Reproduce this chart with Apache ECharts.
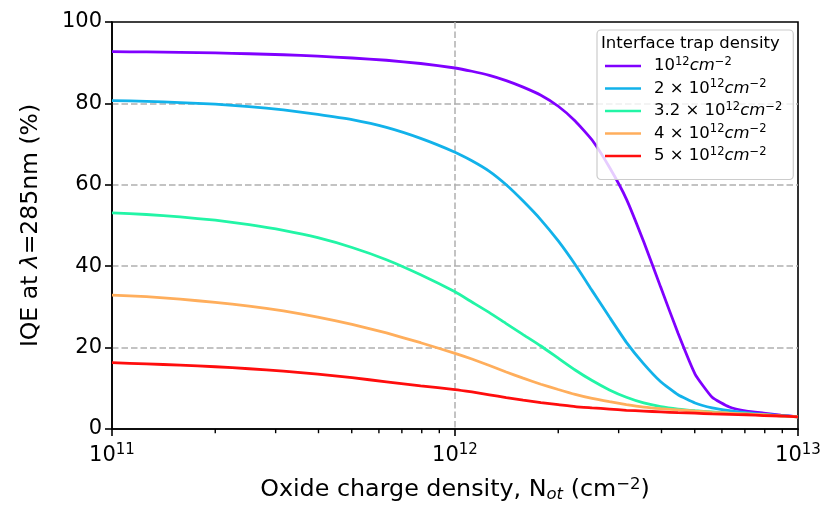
<!DOCTYPE html>
<html>
<head>
<meta charset="utf-8">
<script src="https://cdn.jsdelivr.net/npm/echarts@6/dist/echarts.min.js"></script>
<style>
  html, body { margin: 0; padding: 0; background: #fff; }
  #chart { width: 827px; height: 509px; }
</style>
</head>
<body>
<div id="chart"></div>
<script>
// Oxide charge density N_ot (cm^-2), sampled on a log grid
const oxideCharge = [
  1.00e11, 1.26e11, 1.58e11, 2.00e11, 2.51e11, 3.16e11, 3.98e11, 5.01e11, 6.31e11, 7.94e11,
  1.00e12, 1.12e12, 1.26e12, 1.41e12, 1.58e12, 1.78e12, 2.00e12, 2.24e12, 2.51e12, 2.82e12,
  3.16e12, 3.55e12, 3.98e12, 4.47e12, 5.01e12, 5.62e12, 6.31e12, 7.08e12, 7.94e12, 8.91e12,
  1.00e13
];

// IQE (%) at 285 nm for each interface trap density
const iqeDit1 = [
  92.7, 92.65, 92.55, 92.4, 92.2, 91.95, 91.6, 91.15, 90.6, 89.8,
  88.7, 87.9, 86.9, 85.6, 84.0, 82.0, 79.3, 75.7, 71.0, 64.3,
  56.5, 46.0, 34.8, 23.5, 13.5, 7.8, 5.4, 4.4, 3.9, 3.4,
  3.0
];
const iqeDit2 = [
  80.7, 80.5, 80.2, 79.8, 79.2, 78.4, 77.3, 76.0, 74.1, 71.4,
  68.0, 65.9, 63.3, 60.0, 56.0, 51.4, 46.2, 40.4, 34.0, 27.5,
  21.3, 16.0, 11.6, 8.4, 6.4, 5.2, 4.5, 4.0, 3.6, 3.3,
  3.0
];
const iqeDit32 = [
  53.1, 52.7, 52.1, 51.3, 50.2, 48.8, 47.0, 44.6, 41.6, 37.9,
  33.7, 31.2, 28.6, 25.9, 23.2, 20.4, 17.4, 14.5, 11.9, 9.6,
  7.8, 6.4, 5.5, 4.9, 4.5, 4.2, 3.9, 3.7, 3.5, 3.2,
  3.0
];
const iqeDit4 = [
  32.9, 32.5, 31.9, 31.1, 30.2, 29.0, 27.5, 25.7, 23.6, 21.2,
  18.6, 17.2, 15.6, 14.0, 12.5, 11.0, 9.7, 8.5, 7.5, 6.7,
  6.0, 5.4, 5.0, 4.7, 4.4, 4.1, 3.9, 3.7, 3.5, 3.2,
  3.0
];
const iqeDit5 = [
  16.3, 16.0, 15.7, 15.3, 14.8, 14.2, 13.5, 12.6, 11.6, 10.6,
  9.7, 9.1, 8.4, 7.7, 7.1, 6.5, 6.0, 5.5, 5.2, 4.9,
  4.6, 4.4, 4.2, 4.0, 3.9, 3.7, 3.6, 3.5, 3.3, 3.2,
  3.0
];

const seriesNames = ['dit1', 'dit2', 'dit32', 'dit4', 'dit5'];
const legendLabels = {
  dit1:  '{t|10}{s|12}{i|cm}{s|−2}',
  dit2:  '{t|2 × 10}{s|12}{i|cm}{s|−2}',
  dit32: '{t|3.2 × 10}{s|12}{i|cm}{s|−2}',
  dit4:  '{t|4 × 10}{s|12}{i|cm}{s|−2}',
  dit5:  '{t|5 × 10}{s|12}{i|cm}{s|−2}'
};
const seriesValues = [iqeDit1, iqeDit2, iqeDit32, iqeDit4, iqeDit5];
const seriesColors = ['#8000ff', '#12b2ea', '#22f5a6', '#ffae5c', '#ff0d0d'];

// log-axis minor tick positions (2..9 × 10^n)
const minorTickValues = [
  2e11, 3e11, 4e11, 5e11, 6e11, 7e11, 8e11, 9e11,
  2e12, 3e12, 4e12, 5e12, 6e12, 7e12, 8e12, 9e12
];

const yTicks = { min: 0, max: 100, interval: 20 };

const FONT = 'DejaVu Sans';
const chart = echarts.init(document.getElementById('chart'), null, { renderer: 'canvas' });

const lineSeries = seriesNames.map((name, i) => ({
  name: name,
  type: 'line',
  showSymbol: false,
  symbol: 'none',
  smooth: 0.15,
  data: oxideCharge.map((x, k) => [x, seriesValues[i][k]]),
  lineStyle: { color: seriesColors[i], width: 2.8 },
  itemStyle: { color: seriesColors[i] },
  emphasis: { disabled: true },
  z: 3
}));

const minorTickSeries = {
  name: 'minorTicks',
  type: 'custom',
  silent: true,
  clip: false,
  data: minorTickValues.map(v => [v, 0]),
  renderItem: function (params, api) {
    const p = api.coord([api.value(0), 0]);
    return {
      type: 'line',
      shape: { x1: p[0], y1: p[1], x2: p[0], y2: p[1] + 4.2 },
      style: { stroke: '#000', lineWidth: 1.4 }
    };
  },
  z: 5
};

const gridLine = {
  show: true,
  showMinLine: false,
  showMaxLine: false,
  lineStyle: { color: '#b0b0b0', width: 1.5, type: [6.5, 3] }
};

chart.setOption({
  animation: false,
  backgroundColor: '#fff',
  textStyle: { fontFamily: FONT },
  grid: {
    left: 112, right: 29, top: 22, bottom: 76,
    show: true, borderColor: '#000', borderWidth: 1.6,
    containLabel: false
  },
  xAxis: {
    type: 'log',
    logBase: 10,
    min: 1e11,
    max: 1e13,
    name: '{n|Oxide charge density, N}{sub|ot}{n| (cm}{sup|−2}{n|)}',
    nameLocation: 'middle',
    nameGap: 47,
    nameTextStyle: {
      color: '#000', fontFamily: FONT, fontSize: 23.8,
      rich: {
        n: { fontSize: 23.8, fontFamily: FONT, color: '#000', lineHeight: 28, verticalAlign: 'middle' },
        sub: { fontSize: 16.5, fontFamily: FONT, fontStyle: 'italic', color: '#000', lineHeight: 16, verticalAlign: 'bottom', padding: [0, 0, 1, 0] },
        sup: { fontSize: 16.5, fontFamily: FONT, color: '#000', lineHeight: 16, verticalAlign: 'top' }
      }
    },
    axisLine: { show: true, lineStyle: { color: '#000', width: 1.6 } },
    axisTick: { show: true, length: 7, lineStyle: { color: '#000', width: 1.6 } },
    axisLabel: {
      show: true,
      margin: 14,
      color: '#000',
      showMinLabel: true,
      showMaxLabel: true,
      formatter: function (v) {
        return '{b|10}{s|' + Math.round(Math.log10(v)) + '}';
      },
      rich: {
        b: { fontSize: 21, fontFamily: FONT, color: '#000', lineHeight: 26, verticalAlign: 'middle' },
        s: { fontSize: 15, fontFamily: FONT, color: '#000', lineHeight: 15, verticalAlign: 'top' }
      }
    },
    splitLine: gridLine,
    minorTick: { show: false },
    minorSplitLine: { show: false }
  },
  yAxis: {
    type: 'value',
    min: yTicks.min,
    max: yTicks.max,
    interval: yTicks.interval,
    name: '{n|IQE at }{i|λ}{n|=285nm (%)}',
    nameLocation: 'middle',
    nameGap: 69,
    nameRotate: 90,
    nameTextStyle: {
      color: '#000', fontFamily: FONT, fontSize: 23.5,
      rich: {
        n: { fontSize: 23.5, fontFamily: FONT, color: '#000' },
        i: { fontSize: 23.5, fontFamily: FONT, fontStyle: 'italic', color: '#000' }
      }
    },
    axisLine: { show: true, lineStyle: { color: '#000', width: 1.6 } },
    axisTick: { show: true, length: 7, lineStyle: { color: '#000', width: 1.6 } },
    axisLabel: { color: '#000', fontSize: 21, fontFamily: FONT, margin: 10 },
    splitLine: gridLine
  },
  legend: {
    data: seriesNames,
    orient: 'vertical',
    left: 597,
    top: 30,
    padding: [26, 11, 15, 8],
    itemGap: 4,
    itemWidth: 36,
    itemHeight: 2.6,
    icon: 'rect',
    backgroundColor: 'rgba(255,255,255,0.8)',
    borderColor: '#cccccc',
    borderWidth: 1.2,
    borderRadius: 4,
    selectedMode: false,
    formatter: function (name) { return legendLabels[name]; },
    textStyle: {
      color: '#000',
      fontFamily: FONT,
      fontSize: 16.5,
      padding: [0, 0, 0, 8],
      rich: {
        t: { fontSize: 16.5, fontFamily: FONT, color: '#000', lineHeight: 20, verticalAlign: 'middle' },
        i: { fontSize: 16.5, fontFamily: FONT, fontStyle: 'italic', color: '#000', lineHeight: 20, verticalAlign: 'middle' },
        s: { fontSize: 11.5, fontFamily: FONT, color: '#000', lineHeight: 14, verticalAlign: 'top' }
      }
    },
    z: 10
  },
  graphic: [{
    type: 'text',
    left: 601,
    top: 35,
    z: 100,
    style: {
      text: 'Interface trap density',
      fill: '#000',
      font: '16.5px "DejaVu Sans"'
    }
  }],
  series: lineSeries.concat([minorTickSeries])
});
</script>
</body>
</html>
